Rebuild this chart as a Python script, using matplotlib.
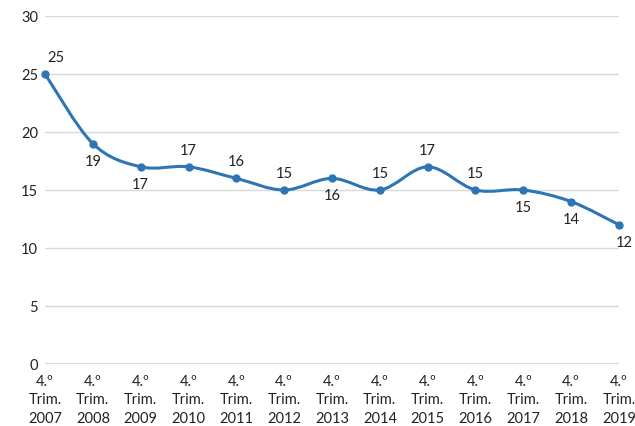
import matplotlib
matplotlib.use("Agg")
import matplotlib.pyplot as plt
from matplotlib.path import Path
from matplotlib.patches import PathPatch
import numpy as np

plt.rcParams['font.family'] = ['Lato', 'DejaVu Sans']

years = ["2007", "2008", "2009", "2010", "2011", "2012", "2013",
         "2014", "2015", "2016", "2017", "2018", "2019"]
tick_labels = ["4.º\nTrim.\n" + y for y in years]
values = [25, 19, 17, 17, 16, 15, 16, 15, 17, 15, 15, 14, 12]
label_pos = ["ar", "b", "b", "a", "a", "a", "b", "a", "a", "a", "b", "b", "br"]

color = "#2E75B6"

fig = plt.figure(figsize=(6.35, 4.27), dpi=100)
ax = fig.add_axes([45/635, 1-365/427, (619-45)/635, (365-17)/427])

x = np.arange(len(values), dtype=float)
y = np.array(values, dtype=float)

# Excel-like smooth curve (Catmull-Rom as cubic Bezier)
verts = [(x[0], y[0])]
codes = [Path.MOVETO]
n = len(x)
for i in range(n - 1):
    p0 = np.array([x[max(i-1, 0)], y[max(i-1, 0)]])
    p1 = np.array([x[i], y[i]])
    p2 = np.array([x[i+1], y[i+1]])
    p3 = np.array([x[min(i+2, n-1)], y[min(i+2, n-1)]])
    c1 = p1 + (p2 - p0) / 6
    c2 = p2 - (p3 - p1) / 6
    verts += [tuple(c1), tuple(c2), tuple(p2)]
    codes += [Path.CURVE4] * 3
ax.add_patch(PathPatch(Path(verts, codes), facecolor='none', edgecolor=color,
                       lw=2.2, capstyle='round', joinstyle='round', zorder=3,
                       clip_on=False))
ax.plot(x, y, 'o', color=color, ms=5, zorder=4, clip_on=False)

for xi, yi, pos in zip(x, y, label_pos):
    if pos == "a":
        off = (0, 17)
    elif pos == "b":
        off = (0, -17)
    elif pos == "ar":
        off = (11, 17)
    else:
        off = (5, -17)
    ax.annotate(str(int(yi)), (xi, yi), xytext=off, textcoords='offset pixels',
                ha='center', va='center', fontsize=10.5, color='#222222')

ax.set_xlim(0, 12)
ax.set_ylim(0, 30)
ax.set_yticks(range(0, 31, 5))
ax.set_xticks(x)
ax.set_xticklabels(tick_labels, fontsize=10.5, color='#222222', linespacing=1.4)
ax.tick_params(axis='y', labelsize=10.5, colors='#222222', length=0, pad=5)
ax.tick_params(axis='x', length=0, pad=7)
ax.grid(axis='y', color='#D9D9D9', lw=1)
ax.set_axisbelow(True)
for s in ax.spines.values():
    s.set_visible(False)
ax.axhline(0, color='#D0D0D0', lw=1.2, zorder=1)

fig.savefig("out.png", dpi=100)
